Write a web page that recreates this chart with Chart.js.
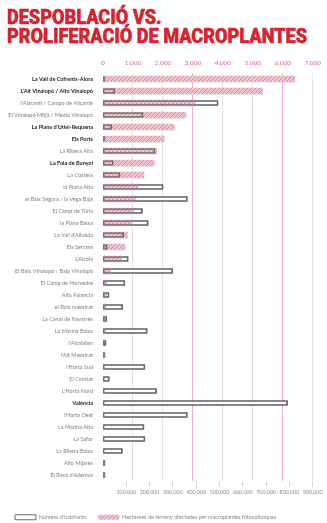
<!DOCTYPE html>
<html>
<head>
<meta charset="utf-8">
<script src="https://cdn.jsdelivr.net/npm/chart.js@4.4.1/dist/chart.umd.min.js"></script>
<style>
  html, body { margin: 0; padding: 0; background: #fff; width: 327px; height: 523px; overflow: hidden; }
  #wrap { position: absolute; left: 0; top: 0; width: 327px; height: 530px; }
  #title { position: absolute; left: 7px; top: 8px; margin: 0; font-family: Roboto, "Liberation Sans", sans-serif;
           font-weight: 900; font-size: 19.5px; line-height: 19px; color: #d8232f; white-space: nowrap;
           transform-origin: 0 0; -webkit-text-stroke: 0.5px #d8232f; }
  #title span { display: inline-block; }
</style>
</head>
<body>
<div id="wrap"><canvas id="chart" width="327" height="530"></canvas></div>
<h1 id="title"><div><span id="l1">DESPOBLACIÓ VS.</span></div><div><span id="l2">PROLIFERACIÓ DE MACROPLANTES</span></div></h1>
<script>
// Comarques, ordered by hectares taken up by large solar plants
const comarques = [
  "La Vall de Cofrents-Aiora", "L'Alt Vinalopó / Alto Vinalopó", "l'Alacantí / Campo de Alicante",
  "El Vinalopó Mitjà / Medio Vinalopó", "La Plana d'Utiel-Requena", "Els Ports", "La Ribera Alta",
  "La Foia de Bunyol", "La Costera", "la Plana Alta", "el Baix Segura / la Vega Baja", "El Camp de Túria",
  "la Plana Baixa", "La Vall d'Albaida", "Els Serrans", "L'Alcoià", "El Baix Vinalopó / Bajo Vinalopó",
  "El Camp de Morvedre", "Alto Palancia", "el Baix maestrat", "La Canal de Navarrés", "La Marina Baixa",
  "l'Alcalaten", "l'Alt Maestrat", "l'Horta Sud", "El Comtat", "L'Horta Nord", "València", "l'Horta Oest",
  "La Marina Alta", "La Safor", "La Ribera Baixa", "Alto Mijares", "El Racó d'Ademús"
];

// Population of each comarca
const habitants = [
  5000, 51000, 494000, 172000, 37000, 4500, 223000, 44000, 73000, 258000, 362000, 169000,
  194000, 89000, 18000, 108000, 299000, 94000, 26000, 84000, 16000, 190000, 13000, 7000,
  180000, 27000, 230000, 792000, 362000, 176000, 180000, 83000, 4000, 2500
];

// Hectares affected by photovoltaic macro-plants
const hectarees = [
  6400, 5320, 3080, 2770, 2375, 2040, 1800, 1715, 1370, 1160, 1090, 1015,
  980, 815, 735, 620, 235, 140, 120, 100, 95, 70, 60, 50,
  40, 35, 30, 25, 20, 15, 12, 10, 5, 3
];

// Comarques whose label is set in bold
const destacades = [
  "La Vall de Cofrents-Aiora", "L'Alt Vinalopó / Alto Vinalopó", "La Plana d'Utiel-Requena",
  "Els Ports", "La Foia de Bunyol", "València"
];

// Tick values of the two value axes
const ticsHectarees = [0, 1000, 2000, 3000, 4000, 5000, 6000, 7000];
const ticsHabitants = [100000, 200000, 300000, 400000, 500000, 600000, 700000, 800000, 900000];

const milers = (v, sep) => String(v).replace(/\B(?=(\d{3})+(?!\d))/g, sep);

// Hatched pink fill for the hectare bars
function hatch() {
  const c = document.createElement('canvas');
  c.width = 4; c.height = 4;
  const g = c.getContext('2d');
  g.fillStyle = '#f4c4ce';
  g.fillRect(0, 0, 4, 4);
  g.strokeStyle = '#e2869a';
  g.lineWidth = 1;
  g.beginPath();
  g.moveTo(0, 4); g.lineTo(4, 0);
  g.moveTo(-1, 1); g.lineTo(1, -1);
  g.moveTo(3, 5); g.lineTo(5, 3);
  g.stroke();
  return g.createPattern(c, 'repeat');
}
const ratllat = hatch();

const labelFont = 'Lato, "Open Sans", sans-serif';
const contorn = '#6a6a6a';

new Chart(document.getElementById('chart'), {
  type: 'bar',
  data: {
    labels: comarques,
    datasets: [
      {
        label: "Número d'habitants",
        data: habitants,
        xAxisID: 'xPob',
        backgroundColor: '#ffffff',
        borderColor: contorn,
        borderWidth: 1,
        borderSkipped: false,
        barThickness: 5,
        minBarLength: 2,
        grouped: false,
        order: 2
      },
      {
        label: 'Hectàrees de terreny afectades per macroplantes fotovoltaiques',
        data: hectarees,
        xAxisID: 'xHa',
        backgroundColor: ratllat,
        borderWidth: 0,
        barThickness: 6,
        grouped: false,
        order: 1
      },
      {
        label: 'contorn',
        data: habitants,
        xAxisID: 'xPob',
        backgroundColor: 'rgba(0,0,0,0)',
        borderColor: contorn,
        borderWidth: 1,
        borderSkipped: false,
        barThickness: 5,
        minBarLength: 2,
        grouped: false,
        order: 0
      }
    ]
  },
  options: {
    indexAxis: 'y',
    responsive: false,
    animation: false,
    devicePixelRatio: 1,
    layout: { padding: { top: 50, left: 3, right: 14, bottom: 0 } },
    plugins: {
      title: { display: false },
      tooltip: { enabled: false },
      legend: {
        position: 'bottom',
        align: 'start',
        labels: {
          boxWidth: 21,
          boxHeight: 5,
          padding: 12,
          color: '#888888',
          font: { family: labelFont, size: 5.5 },
          filter: item => item.datasetIndex < 2,
          sort: (a, b) => a.datasetIndex - b.datasetIndex
        }
      }
    },
    scales: {
      y: {
        type: 'category',
        position: 'left',
        grid: { display: false, drawTicks: false },
        border: { display: false },
        afterFit: s => { s.width = 100; },
        ticks: {
          autoSkip: false,
          padding: 10,
          color: ctx => destacades.includes(comarques[ctx.index]) ? '#1e1e1e' : '#808080',
          font: ctx => ({
            family: labelFont,
            size: 5.5,
            weight: destacades.includes(comarques[ctx.index]) ? 'bold' : 'normal'
          })
        }
      },
      xHa: {
        type: 'linear',
        position: 'top',
        min: 0,
        max: 7000,
        afterBuildTicks: s => { s.ticks = ticsHectarees.map(v => ({ value: v })); },
        afterFit: s => { s.height = 23; },
        grid: {
          drawTicks: false,
          lineWidth: 1,
          color: ctx => {
            const v = ctx.tick && ctx.tick.value;
            if (v === 0) return 'rgba(0,0,0,0)';
            if (v === 3000 || v === 6000) return '#efb3be';
            return '#e3e3e3';
          }
        },
        border: { display: false },
        ticks: {
          padding: 6,
          color: '#e26a7a',
          font: { family: labelFont, size: 6.5 },
          callback: v => milers(v, '.')
        }
      },
      xPob: {
        type: 'linear',
        position: 'bottom',
        min: 0,
        max: 900000,
        afterBuildTicks: s => { s.ticks = ticsHabitants.map(v => ({ value: v })); },
        afterFit: s => { s.height = 21.5; },
        grid: { drawOnChartArea: false, drawTicks: true, tickLength: 6, color: '#d8d8d8' },
        border: { display: false },
        ticks: {
          padding: 2,
          color: '#8a8a8a',
          font: { family: labelFont, size: 5.3 },
          callback: v => milers(v, ',')
        }
      }
    }
  }
});

// Condense the headline so its second line spans the page width
const t = document.getElementById('title');
const w = document.getElementById('l2').getBoundingClientRect().width;
t.style.transform = 'scaleX(' + (300 / w) + ')';
</script>
</body>
</html>
